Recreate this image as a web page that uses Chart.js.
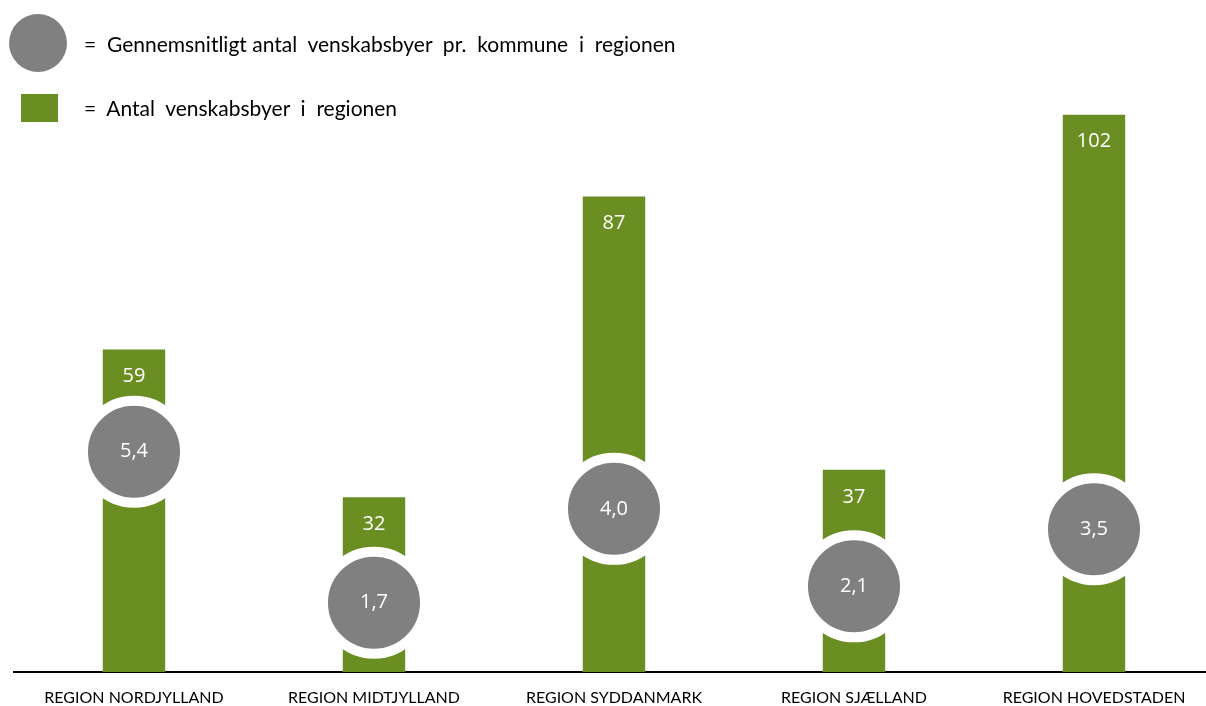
<!DOCTYPE html>
<html>
<head>
<meta charset="utf-8">
<script src="https://cdn.jsdelivr.net/npm/chart.js@4.4.1/dist/chart.umd.min.js"></script>
<style>
  html, body { margin: 0; padding: 0; background: #fff; overflow: hidden; }
  #wrap { position: relative; width: 1206px; height: 706px; overflow: hidden; }
  #cv { position: absolute; left: 0; top: 0; }
  .leg { position: absolute; font-family: Lato, "Open Sans", sans-serif; font-size: 21px; color: #000; line-height: 24px; white-space: pre; }
  .sw-c { position: absolute; left: 9px; top: 14px; width: 58px; height: 58px; border-radius: 50%; background: #808080; }
  .sw-s { position: absolute; left: 21px; top: 94px; width: 37px; height: 28px; background: #6B8E23; }
</style>
</head>
<body>
<div id="wrap">
  <canvas id="cv" width="1220" height="706" style="width:1220px;height:706px"></canvas>
  <div class="sw-c"></div>
  <div class="leg" style="left:84px; top:32px;">=  Gennemsnitligt antal  venskabsbyer  pr.  kommune  i  regionen</div>
  <div class="sw-s"></div>
  <div class="leg" style="left:84px; top:96px;">=  Antal  venskabsbyer  i  regionen</div>
</div>
<script>
const categories = ["REGION NORDJYLLAND", "REGION MIDTJYLLAND", "REGION SYDDANMARK", "REGION SJÆLLAND", "REGION HOVEDSTADEN"];
const antalVenskabsbyer = [59, 32, 87, 37, 102];
const gennemsnitPrKommune = [5.4, 1.7, 4.0, 2.1, 3.5];

const GREEN = "#6B8E23";
const GREY = "#808080";

const labelPlugin = {
  id: "valueLabels",
  afterDatasetsDraw(chart) {
    const ctx = chart.ctx;
    ctx.save();
    ctx.fillStyle = "#ffffff";
    ctx.textAlign = "center";
    ctx.textBaseline = "middle";
    ctx.font = '20px "Open Sans", sans-serif';
    chart.data.datasets.forEach((ds, di) => {
      const meta = chart.getDatasetMeta(di);
      meta.data.forEach((el, i) => {
        const v = ds.data[i];
        if (meta.type === "bar") {
          ctx.fillText(String(v), el.x, el.y + 27);
        } else {
          ctx.fillText(v.toFixed(1).replace(".", ","), el.x, el.y);
        }
      });
    });
    ctx.restore();
  }
};

new Chart(document.getElementById("cv"), {
  type: "bar",
  data: {
    labels: categories,
    datasets: [
      {
        type: "line",
        label: "Gennemsnitligt antal venskabsbyer pr. kommune i regionen",
        data: gennemsnitPrKommune,
        yAxisID: "y2",
        showLine: false,
        pointRadius: 51,
        pointHoverRadius: 51,
        pointBackgroundColor: GREY,
        pointBorderColor: "#ffffff",
        pointBorderWidth: 10,
        pointHoverBorderWidth: 10,
        order: 1,
        clip: false
      },
      {
        type: "bar",
        label: "Antal venskabsbyer i regionen",
        data: antalVenskabsbyer,
        yAxisID: "y",
        backgroundColor: GREEN,
        barPercentage: 0.26,
        categoryPercentage: 1.0,
        order: 2
      }
    ]
  },
  options: {
    responsive: false,
    animation: false,
    events: [],
    layout: { autoPadding: false, padding: { top: 60, left: 14, right: 6, bottom: 0 } },
    plugins: { legend: { display: false }, tooltip: { enabled: false } },
    scales: {
      x: {
        offset: true,
        afterFit(scale) { scale.height = 34; },
        grid: { display: false, drawTicks: false },
        border: { display: true, color: "#000000", width: 2 },
        ticks: { color: "#000000", padding: 16, maxRotation: 0, autoSkip: false,
                 font: { family: "Lato, 'Open Sans', sans-serif", size: 16 } }
      },
      y: { display: false, min: 0, max: 112 },
      y2: { display: false, min: 0, max: 15 }
    }
  },
  plugins: [labelPlugin]
});
</script>
</body>
</html>
